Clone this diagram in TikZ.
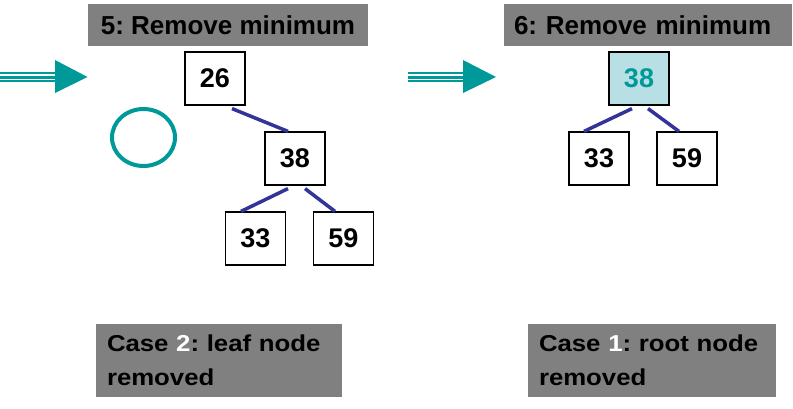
\documentclass[tikz,border=0pt]{standalone}
\usepackage{fontspec}
\setmainfont{Liberation Sans}
\newfontfamily\casefont{Liberation Sans}[FakeStretch=1.12]
\usetikzlibrary{calc}
\definecolor{teal1}{HTML}{009999}
\definecolor{lightteal}{HTML}{B8E0E4}
\definecolor{edgeblue}{HTML}{333399}
\definecolor{titlegrey}{HTML}{808080}
\frenchspacing
\tikzset{
  keybox/.style={draw=black, line width=1.2pt, fill=white, minimum width=60pt, minimum height=53pt,
    inner sep=0pt, font=\fontsize{27}{30}\selectfont\bfseries},
  rootbox/.style={keybox, fill=lightteal, text=teal1},
  titlebox/.style={fill=titlegrey, inner sep=0pt, minimum height=42pt,
    font=\fontsize{26}{30}\selectfont\bfseries\frenchspacing},
  casebox/.style={fill=titlegrey, inner sep=0pt, minimum height=73pt, align=left,
    font=\casefont\fontsize{23}{34}\selectfont\bfseries\frenchspacing},
  edge/.style={draw=edgeblue, line width=3.5pt},
  band/.style={draw=teal1},
  arrowhead/.style={fill=teal1, draw=none},
  ring/.style={draw=teal1, line width=4pt}
}
\begin{document}
\begin{tikzpicture}[x=1pt, y=-1pt]
  \useasboundingbox (0,0) rectangle (793,409);
  % titles
  \node[titlebox, minimum width=280pt] (t1) at (228,25) {5: Remove minimum};
  \node[titlebox, minimum width=288pt, text width=268pt, align=left] (t2) at (648,25) {6: Remove minimum};
  % arrows
  \draw[band, line width=2.6pt] (0,73) -- (56,73);
  \draw[band, line width=2.6pt] (0,77.4) -- (56,77.4);
  \draw[band, line width=1.8pt] (0,81) -- (56,81);
  \fill[arrowhead] (55,60) -- (87.5,77) -- (55,93) -- cycle;
  \draw[band, line width=2.6pt] (408,73) -- (464,73);
  \draw[band, line width=2.6pt] (408,77.4) -- (464,77.4);
  \draw[band, line width=1.8pt] (408,81) -- (464,81);
  \fill[arrowhead] (463,60) -- (496,77) -- (463,93) -- cycle;
  % ring
  \draw[ring] (143.5,137.5) ellipse [x radius=31.5pt, y radius=28.5pt];
  % left tree
  \node[keybox] (a26) at (215,78.5) {26};
  \node[keybox] (a38) at (295,158.5) {38};
  \node[keybox] (a33) at (255.5,238.5) {33};
  \node[keybox] (a59) at (343.5,238.5) {59};
  \draw[edge] ($(a26.south)+(17,3)$) -- ($(a38.north)+(-7,0)$);
  \draw[edge] ($(a38.south)+(-7,3)$) -- ($(a33.north)+(-14.5,0)$);
  \draw[edge] ($(a38.south)+(10,3)$) -- ($(a59.north)+(-8.5,0)$);
  % right tree
  \node[rootbox] (b38) at (639,78.5) {38};
  \node[keybox] (b33) at (599,158.5) {33};
  \node[keybox] (b59) at (687,158.5) {59};
  \draw[edge] ($(b38.south)+(-7,3)$) -- ($(b33.north)+(-15,0)$);
  \draw[edge] ($(b38.south)+(9,3)$) -- ($(b59.north)+(-8,0)$);
  % case boxes
  \node[casebox, minimum width=246pt, text width=224pt] (c1) at (219,360.5)
    {Case \textcolor{white}{2}: leaf node\\removed};
  \node[casebox, minimum width=248pt, text width=226pt] (c2) at (652,360.5)
    {Case \textcolor{white}{1}: root node\\removed};
\end{tikzpicture}
\end{document}
